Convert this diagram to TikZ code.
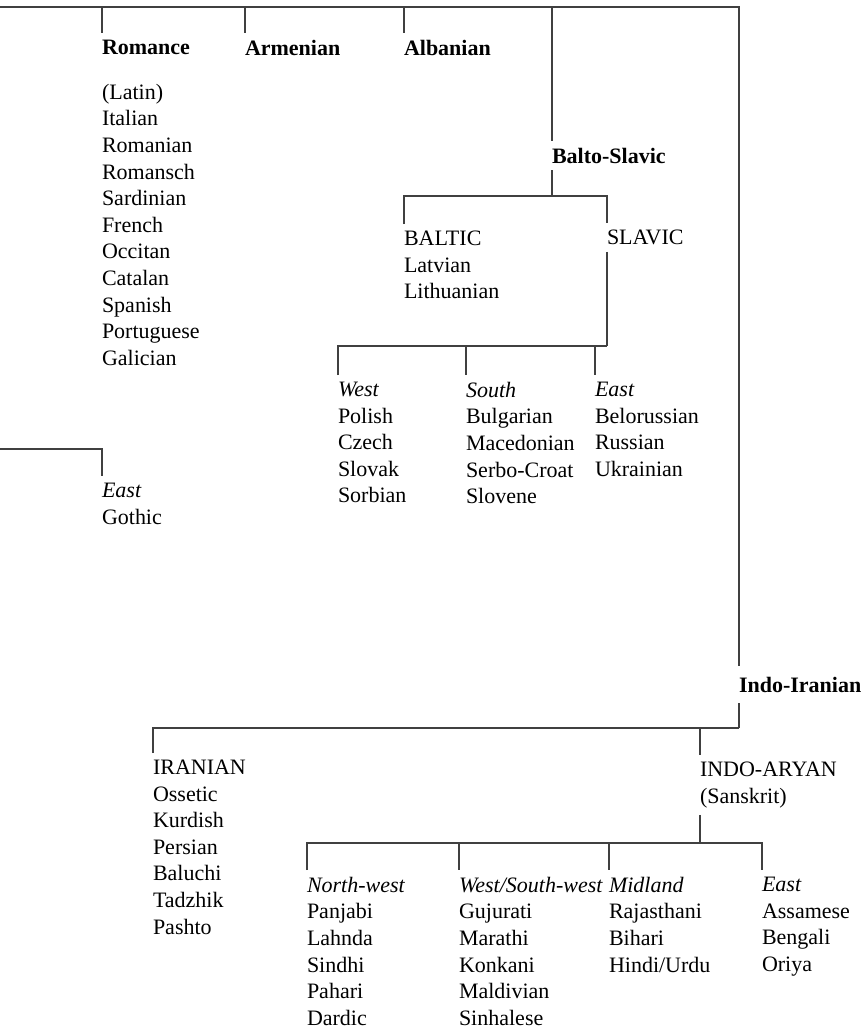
\documentclass[tikz,border=0pt]{standalone}
\usepackage{fontspec}
\setmainfont{Liberation Serif}
\usepackage{tikz}

\begin{document}
\begin{tikzpicture}[
    x = 0.5pt, y = -0.5pt,
    every node/.style = {anchor = north west, inner sep = 0pt, outer xsep = 0pt,
        outer ysep = 3.5pt, align = left, font = \fontsize{11}{13.3}\selectfont},
      branch/.style = {font = \fontsize{11}{13.3}\selectfont\bfseries},
      bar/.style = {draw = black!75, line width = 0.6pt}
    ]
    \useasboundingbox (0,0) rectangle (865,1030);
    % bar heights
    \coordinate (ieL) at (0,7);
    \coordinate (gmbar) at (0,449);
    \coordinate (bsbar) at (0,196);
    \coordinate (slbar) at (0,346);
    \coordinate (iibar) at (0,728);
    \coordinate (iabar) at (0,843);
    % branches off the top bar
    \node[branch] (romance) at (102,33) {Romance};
    \node[branch] (armenian) at (245,33) {Armenian};
    \node[branch] (albanian) at (404,33) {Albanian};
    \node (romlist) at (102,77) {(Latin)\\Italian\\Romanian\\Romansch\\Sardinian\\French\\Occitan\\Catalan\\Spanish\\Portuguese\\Galician};
    \node[branch] (balto) at (552,141) {Balto-Slavic};
    \node (baltic) at (404,224) {BALTIC\\Latvian\\Lithuanian};
    \node (slavic) at (607,223) {SLAVIC};
    \node (slwest) at (338,375) {\textit{West}\\Polish\\Czech\\Slovak\\Sorbian};
    \node (slsouth) at (466,375) {\textit{South}\\Bulgarian\\Macedonian\\Serbo-Croat\\Slovene};
    \node (sleast) at (595,375) {\textit{East}\\Belorussian\\Russian\\Ukrainian};
    \node (gmeast) at (102,476) {\textit{East}\\Gothic};
    % indo-iranian
    \node[branch, outer ysep = 5.5pt] (indoir) at (739,666) {Indo-Iranian};
    \node (iranian) at (153,753) {IRANIAN\\Ossetic\\Kurdish\\Persian\\Baluchi\\Tadzhik\\Pashto};
    \node (indoar) at (700,755) {INDO-ARYAN\\(Sanskrit)};
    \node (nwest) at (307,870) {\textit{North-west}\\Panjabi\\Lahnda\\Sindhi\\Pahari\\Dardic};
    \node (swest) at (459,870) {\textit{West/South-west}\\Gujurati\\Marathi\\Konkani\\Maldivian\\Sinhalese};
    \node (midland) at (609,870) {\textit{Midland}\\Rajasthani\\Bihari\\Hindi/Urdu};
    \node (iaeast) at (762,870) {\textit{East}\\Assamese\\Bengali\\Oriya};

    \draw[bar] (ieL) -| (indoir.north west);
    \foreach \n in {romance, armenian, albanian, balto}
        \draw[bar] (\n.north west |- ieL) -- (\n.north west);
    \draw[bar] (gmbar) -| (gmeast.north west);
    % balto-slavic
    \draw[bar] (balto.south west) -- (balto.south west |- bsbar);
    \draw[bar] (baltic.north west) |- (slavic.north west |- bsbar) -- (slavic.north west);
    \draw[bar] (slavic.south west) -- (slavic.south west |- slbar);
    \draw[bar] (slwest.north west) |- (slavic.south west |- slbar);
    \foreach \n in {slsouth, sleast}
        \draw[bar] (\n.north west |- slbar) -- (\n.north west);
    % indo-iranian
    \draw[bar] (indoir.south west) -- (indoir.south west |- iibar);
    \draw[bar] (iranian.north west) |- (indoir.south west |- iibar);
    \draw[bar] (indoar.north west |- iibar) -- (indoar.north west);
    \draw[bar] (indoar.south west) -- (indoar.south west |- iabar);
    \draw[bar] (nwest.north west) |- (iaeast.north west |- iabar) -- (iaeast.north west);
    \foreach \n in {swest, midland}
        \draw[bar] (\n.north west |- iabar) -- (\n.north west);
\end{tikzpicture}
\end{document}
